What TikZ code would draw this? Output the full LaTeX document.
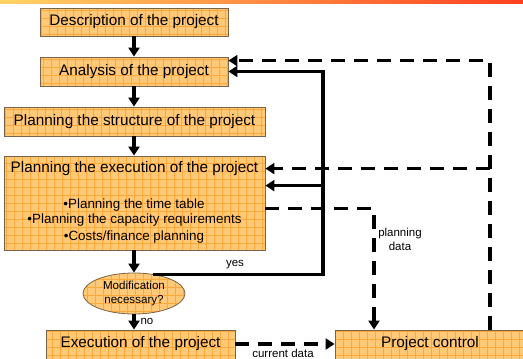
\documentclass[tikz,border=0pt]{standalone}
\usepackage{fontspec}
\setmainfont{Liberation Sans}
\usetikzlibrary{arrows.meta,shapes.geometric,calc}
\definecolor{boxfill}{HTML}{FFC978}
\definecolor{gridcol}{HTML}{FFA83A}
\definecolor{boxedge}{HTML}{7A6448}
\definecolor{barL}{HTML}{FFD466}
\definecolor{barR}{HTML}{FF4020}
\tikzset{
  gridfill/.style={fill=boxfill, draw=boxedge, line width=0.8pt,
    path picture={\draw[gridcol, line width=0.5pt]
      ([shift={(-1pt,-1pt)}]path picture bounding box.south west) grid[step=8pt]
      ([shift={(1pt,1pt)}]path picture bounding box.north east);}},
  boxnode/.style={gridfill, rectangle, inner sep=0pt, minimum width=#1},
  titletext/.style={font=\fontsize{15.3}{18}\selectfont, inner sep=0pt},
  bullettext/.style={font=\fontsize{13.4}{16}\selectfont, inner sep=0pt},
  smalltext/.style={font=\fontsize{11.5}{14}\selectfont, inner sep=0pt, align=center},
  tip/.style={-{Triangle[length=9pt,width=11pt]}},
  solidline/.style={line width=3.2pt, tip},
  dashline/.style={line width=3.4pt, dash pattern=on 14pt off 9pt, tip},
}
\begin{document}
\begin{tikzpicture}[x=1pt,y=-1pt]
\useasboundingbox (0,0) rectangle (523,359);
\clip (0,0) rectangle (523,359);
% top bar
\shade[left color=barL, right color=barR] (0,0) rectangle (523,3);

% boxes
\node[boxnode=188, minimum height=28, titletext] (desc) at (134,22) {Description of the project};
\node[boxnode=188, minimum height=29, titletext] (anal) at (134,71.5) {Analysis of the project};
\node[boxnode=261, minimum height=29, titletext] (struct) at (134.5,121.5) {Planning the structure of the project};
\node[boxnode=261, minimum height=94] (pe) at (134.5,203) {};
\node[titletext] (petitle) at (134.5,169) {Planning the execution of the project};
\node[bullettext] (b1) at (134,205) {•Planning the time table};
\node[bullettext] (b2) at (134.5,220) {•Planning the capacity requirements};
\node[bullettext] (b3) at (134,237) {•Costs/finance planning};
\node[gridfill, ellipse, minimum width=102, minimum height=41, inner sep=0pt,
      font=\fontsize{11.6}{14}\selectfont, align=center] (mod) at (134,293.5) {Modification\\necessary?};
\node[boxnode=189, minimum height=34] (ex) at (140.5,347) {};
\node[titletext] (extext) at (140.5,344) {Execution of the project};
\node[boxnode=192, minimum height=34] (pc) at (431,347) {};
\node[titletext] (pctext) at (430,344) {Project control};

% helper coordinates
\coordinate (jx) at (323,0);
\coordinate (dx) at (490,0);
\coordinate (px) at (374,0);

% main flow
\draw[solidline] (desc) -- (anal);
\draw[solidline] (anal.south) -- (anal.south |- struct.north);
\draw[solidline] (struct.south -| anal.south) -- (anal.south |- pe.north);
\draw[solidline] (pe.south -| mod.north) -- (mod.north);
\draw[solidline] (mod.south) -- (mod.south |- ex.north) node[smalltext, pos=0.45, right=5pt] (no) {no};

% yes feedback
\draw[solidline] (mod.45) -| (jx |- anal.east) -- (anal.east);
\draw[solidline] (jx |- {$(pe.north east)+(0,30)$}) -- ($(pe.north east)+(0,30)$);
\node[smalltext] (yes) at (235,265) {yes};

% dashed feedback from project control
\draw[dashline] (dx |- pc.north) -- (dx |- {$(anal.north east)+(0,4)$}) -- ($(anal.north east)+(0,4)$);
\draw[dashline] (dx |- {$(pe.north east)+(0,13)$}) -- ($(pe.north east)+(0,13)$);

% planning data
\draw[dashline] ($(pe.north east)+(0,53)$) -| (px |- pc.north);
\node[smalltext] (pdata) at (400,239) {planning\\data};

% current data
\draw[dashline] (ex.east |- extext) -- (pc.west |- extext);
\node[smalltext] (cdata) at (283,353) {current data};
\end{tikzpicture}
\end{document}
